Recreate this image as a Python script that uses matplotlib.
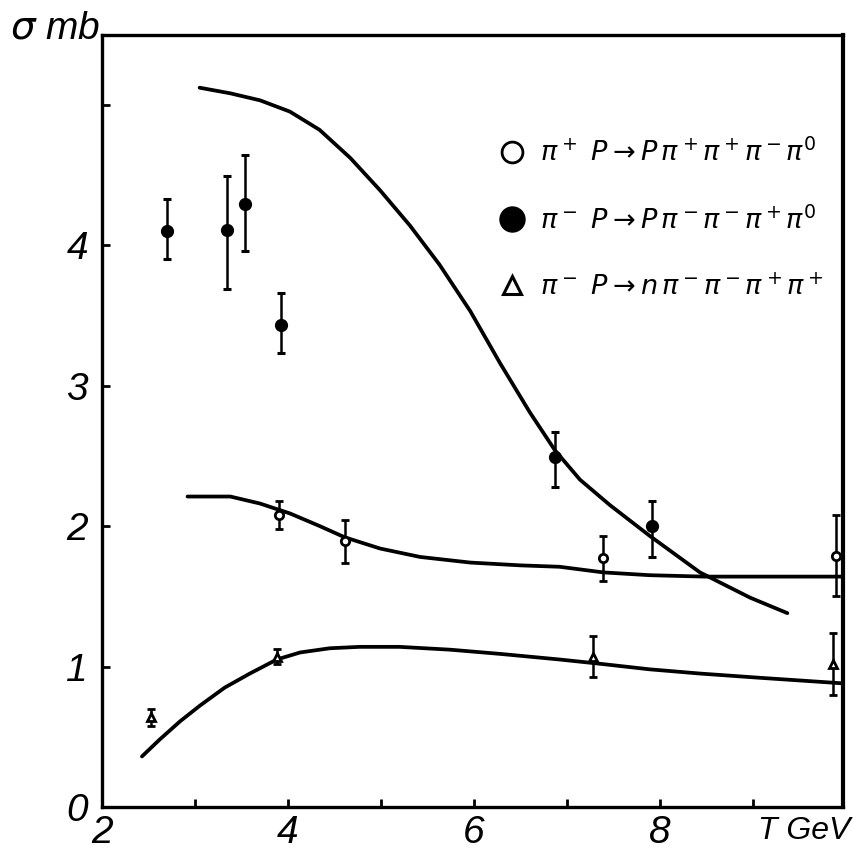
import matplotlib
matplotlib.use("Agg")
import matplotlib.pyplot as plt
from matplotlib.lines import Line2D

plt.rcParams['font.family'] = ['Liberation Sans', 'DejaVu Sans']
plt.rcParams['mathtext.fontset'] = 'dejavusans'

# ---- data ----
# pi- p -> p pi- pi- pi+ pi0 (filled circles)
T_filled = [2.70, 3.34, 3.54, 3.93, 6.87, 7.91]
s_filled = [4.10, 4.11, 4.29, 3.43, 2.49, 2.00]
e_filled_lo = [0.20, 0.42, 0.33, 0.20, 0.21, 0.22]
e_filled_hi = [0.23, 0.38, 0.35, 0.23, 0.18, 0.18]

# pi+ p -> p pi+ pi+ pi- pi0 (open circles)
T_open = [3.90, 4.61, 7.39, 9.89]
s_open = [2.08, 1.89, 1.77, 1.79]
e_open = [0.10, 0.15, 0.16, 0.29]

# pi- p -> n pi- pi- pi+ pi+ (triangles)
T_tri = [2.53, 3.88, 7.28, 9.86]
s_tri = [0.64, 1.07, 1.07, 1.02]
e_tri = [0.06, 0.055, 0.145, 0.22]

# hand-drawn curves
T_c1 = [3.05, 3.38, 3.70, 4.02, 4.34, 4.67, 4.99, 5.31, 5.63, 5.96, 6.28,
        6.60, 6.87, 7.14, 7.46, 7.89, 8.43, 8.97, 9.37]
s_c1 = [5.12, 5.08, 5.03, 4.95, 4.82, 4.62, 4.39, 4.14, 3.86, 3.53, 3.16,
        2.81, 2.54, 2.33, 2.15, 1.93, 1.67, 1.49, 1.38]

T_c2 = [2.92, 3.38, 3.70, 4.02, 4.34, 4.61, 4.99, 5.42, 5.96, 6.50, 6.92,
        7.39, 7.89, 8.48, 9.18, 9.97]
s_c2 = [2.21, 2.21, 2.16, 2.09, 2.00, 1.92, 1.84, 1.78, 1.74, 1.72, 1.71,
        1.67, 1.65, 1.64, 1.64, 1.64]

T_c3 = [2.43, 2.62, 2.84, 3.05, 3.32, 3.59, 3.88, 4.13, 4.45, 4.77, 5.20,
        5.74, 6.28, 6.92, 7.35, 7.89, 8.43, 9.07, 9.97]
s_c3 = [0.36, 0.48, 0.61, 0.72, 0.85, 0.95, 1.05, 1.10, 1.13, 1.14, 1.14,
        1.12, 1.09, 1.05, 1.02, 0.98, 0.95, 0.92, 0.88]

x_ticks = [2, 3, 4, 5, 6, 7, 8, 9]
x_ticklabels = ['2', '', '4', '', '6', '', '8', '']
y_ticks = [0, 1, 2, 3, 4, 5]
y_ticklabels = ['0', '1', '2', '3', '4', '']

labels = [r'$\pi^+\ P \rightarrow P\,\pi^+\pi^+\pi^-\pi^0$',
          r'$\pi^-\ P \rightarrow P\,\pi^-\pi^-\pi^+\pi^0$',
          r'$\pi^-\ P \rightarrow n\,\pi^-\pi^-\pi^+\pi^+$']

# ---- figure ----
fig = plt.figure(figsize=(8.54, 8.52), dpi=100)
ax = fig.add_axes([0.1194, 0.0528, 0.8677, 0.9061])

lw_curve = 2.7
for T, s in ((T_c1, s_c1), (T_c2, s_c2), (T_c3, s_c3)):
    ax.plot(T, s, color='black', lw=lw_curve, solid_capstyle='round',
            solid_joinstyle='round')

ekw = dict(ecolor='black', elinewidth=1.8, capsize=2.8, capthick=2.2, ls='none')
ax.errorbar(T_filled, s_filled, yerr=[e_filled_lo, e_filled_hi], fmt='o',
            mfc='black', mec='black', ms=8.5, **ekw)
ax.errorbar(T_open, s_open, yerr=e_open, fmt='o', mfc='white', mec='black',
            mew=2.0, ms=6.0, **ekw)
ax.errorbar(T_tri, s_tri, yerr=e_tri, fmt='^', mfc='white', mec='black',
            mew=2.0, ms=6.0, **ekw)

ax.set_xlim(2, 9.968)
ax.set_ylim(0, 5.495)
ax.set_xticks(x_ticks)
ax.set_xticklabels(x_ticklabels)
ax.set_yticks(y_ticks)
ax.set_yticklabels(y_ticklabels)
ax.tick_params(direction='in', length=6, width=2, labelsize=28)
ax.tick_params(axis='y', pad=10)
ax.tick_params(axis='x', pad=6)
for lab in ax.get_xticklabels() + ax.get_yticklabels():
    lab.set_fontstyle('italic')
for sp in ax.spines.values():
    sp.set_linewidth(2.4)
ax.spines['right'].set_linewidth(3.0)

ax.set_xlabel('T GeV', fontsize=23, fontstyle='italic')
ax.xaxis.set_label_coords(0.948, -0.012)
ax.xaxis.label.set_va('top')
ax.set_ylabel(r'$\sigma$ mb', fontsize=28, fontstyle='italic', rotation=0)
ax.yaxis.set_label_coords(-0.063, 1.008)
ax.yaxis.label.set_va('center')
ax.yaxis.label.set_ha('center')

handles = [
    Line2D([], [], ls='none', marker='o', mfc='white', mec='black', mew=2.0, ms=15),
    Line2D([], [], ls='none', marker='o', mfc='black', mec='black', ms=18),
    Line2D([], [], ls='none', marker='^', mfc='white', mec='black', mew=2.2, ms=13),
]
leg = ax.legend(handles, labels, loc='upper left', bbox_to_anchor=(0.52, 0.880),
                frameon=False, fontsize=19.5, handlelength=1.0, handletextpad=0.55,
                labelspacing=1.45, borderaxespad=0)

fig.savefig('out.png', dpi=100)
